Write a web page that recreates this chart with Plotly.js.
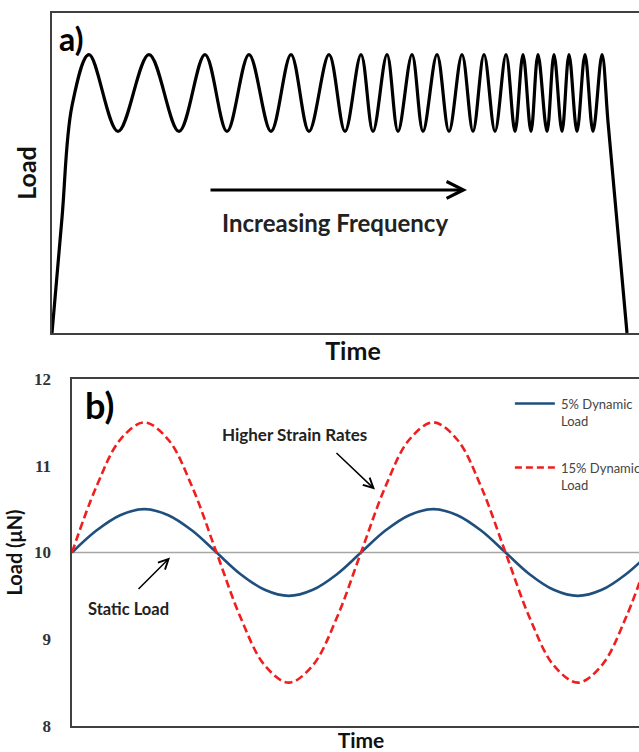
<!DOCTYPE html>
<html>
<head>
<meta charset="utf-8">
<script src="https://cdn.plot.ly/plotly-3.0.1.min.js"></script>
<style>
html, body { margin: 0; padding: 0; background: #fff; overflow: hidden; }
#chart { width: 660px; height: 752px; }
</style>
</head>
<body>
<div id="chart"></div>
<script>
// ---------- Panel a) : load vs time with increasing frequency ----------
// time (arbitrary units) and load (arbitrary units)
const timeA = [0, 10, 20, 37, 66, 97, 127, 153, 175, 197, 219, 239, 257, 277, 293, 309, 321, 335, 346, 360, 371, 385, 397, 410, 421, 432, 443, 454, 463, 471, 479, 486, 495, 502, 510, 517, 525, 533, 541, 550, 556, 565.5, 575];
const loadA = [0, 3.6, 7.1, 8.7, 6.3, 8.7, 6.3, 8.7, 6.3, 8.7, 6.3, 8.7, 6.3, 8.7, 6.3, 8.7, 6.3, 8.7, 6.3, 8.7, 6.3, 8.7, 6.3, 8.7, 6.3, 8.7, 6.3, 8.7, 6.3, 8.7, 6.3, 8.7, 6.3, 8.7, 6.3, 8.7, 6.3, 8.7, 6.3, 8.7, 6.6, 3.3, 0];

// ---------- Panel b) : dynamic loads ----------
const timeB = [0, 1, 2, 3, 4, 5, 6, 7, 8, 9, 10, 11, 12, 13, 14, 15, 16, 17, 18, 19, 20, 21, 22, 23, 24];
const load5 = [10, 10.25, 10.43, 10.5, 10.43, 10.25, 10, 9.75, 9.57, 9.5, 9.57, 9.75, 10, 10.25, 10.43, 10.5, 10.43, 10.25, 10, 9.75, 9.57, 9.5, 9.57, 9.75, 10];
const load15 = [10, 10.75, 11.3, 11.5, 11.3, 10.75, 10, 9.25, 8.7, 8.5, 8.7, 9.25, 10, 10.75, 11.3, 11.5, 11.3, 10.75, 10, 9.25, 8.7, 8.5, 8.7, 9.25, 10];
const staticT = [0, 24];
const staticLoad = [10, 10];
const seriesNames = ['5% Dynamic<br>Load', '15% Dynamic<br>Load'];
const yTicksB = [8, 9, 10, 11, 12];

const W = 660, H = 752;
const SANS = 'Lato, "Open Sans", sans-serif';

const traces = [
  { x: timeA, y: loadA, xaxis: 'x', yaxis: 'y', mode: 'lines',
    line: { color: '#000', width: 3.2, shape: 'spline', smoothing: 1 }, showlegend: false, hoverinfo: 'skip' },
  { x: staticT, y: staticLoad, xaxis: 'x2', yaxis: 'y2', mode: 'lines',
    line: { color: '#a6a6a6', width: 1.6 }, showlegend: false, hoverinfo: 'skip' },
  { x: timeB, y: load5, xaxis: 'x2', yaxis: 'y2', mode: 'lines', name: seriesNames[0],
    line: { color: '#1f4f7d', width: 2.6, shape: 'spline' }, showlegend: false },
  { x: timeB, y: load15, xaxis: 'x2', yaxis: 'y2', mode: 'lines', name: seriesNames[1],
    line: { color: '#f01e1e', width: 2.6, dash: '8px,4px', shape: 'spline' }, showlegend: false }
];

const axLine = { showline: true, mirror: true, linecolor: '#404040', linewidth: 1.6,
  showgrid: false, zeroline: false, ticks: '' };

const layout = {
  width: W, height: H,
  margin: { l: 0, r: 0, t: 0, b: 0, pad: 0 },
  paper_bgcolor: '#fff', plot_bgcolor: '#fff',
  showlegend: false,
  xaxis: Object.assign({}, axLine, {
    domain: [52 / W, 654 / W], range: [0, 602], showticklabels: false, anchor: 'y',
    title: { text: 'Time', font: { family: SANS, size: 25, color: '#111', weight: 'bold' }, standoff: 9 }
  }),
  yaxis: Object.assign({}, axLine, {
    domain: [1 - 333 / H, 1 - 13 / H], range: [0, 10], showticklabels: false, anchor: 'x',
    title: { text: 'Load', font: { family: SANS, size: 25, color: '#111', weight: 'bold' }, standoff: 6 }
  }),
  xaxis2: Object.assign({}, axLine, {
    domain: [72 / W, 650 / W], range: [0, 24], showticklabels: false, anchor: 'y2',
    title: { text: 'Time', font: { family: SANS, size: 21, color: '#111', weight: 'bold' }, standoff: 10 }
  }),
  yaxis2: Object.assign({}, axLine, {
    domain: [1 - 726 / H, 1 - 379 / H], range: [8, 12], anchor: 'x2',
    tickmode: 'array', tickvals: yTicksB, ticktext: yTicksB.map(String),
    ticklabelstandoff: 16,
    tickfont: { family: '"Liberation Serif", serif', size: 17, color: '#333', weight: 'bold' },
    title: { text: 'Load (μN)', font: { family: SANS, size: 20, color: '#111', weight: 'bold' }, standoff: 6 }
  }),
  shapes: [
    { type: 'line', xref: 'x2', yref: 'y2', x0: 18.39, x1: 20.05, y0: 11.718, y1: 11.718,
      line: { color: '#1f4f7d', width: 2.6 } },
    { type: 'line', xref: 'x2', yref: 'y2', x0: 18.39, x1: 20.05, y0: 10.98, y1: 10.98,
      line: { color: '#f01e1e', width: 2.6, dash: '7px,4px' } }
  ],
  annotations: [
    // panel a
    { xref: 'x', yref: 'y', x: 5, y: 9.2, xanchor: 'left', yanchor: 'middle', text: 'a)', showarrow: false,
      font: { family: SANS, size: 32, color: '#000', weight: 'bold' } },
    { xref: 'x', yref: 'y', x: 415, y: 4.47, axref: 'x', ayref: 'y', ax: 157, ay: 4.47, text: '',
      showarrow: true, arrowhead: 5, arrowsize: 1.1, arrowwidth: 3, arrowcolor: '#000', standoff: 0, startstandoff: 0 },
    { xref: 'x', yref: 'y', x: 283, y: 3.44, xanchor: 'center', yanchor: 'middle', text: 'Increasing Frequency', showarrow: false,
      font: { family: SANS, size: 24, color: '#222', weight: 'bold' } },
    // panel b
    { xref: 'x2', yref: 'y2', x: 0.45, y: 11.7, xanchor: 'left', yanchor: 'middle', text: 'b)', showarrow: false,
      font: { family: SANS, size: 36, color: '#000', weight: 'bold' } },
    { xref: 'x2', yref: 'y2', x: 9.22, y: 11.36, xanchor: 'center', yanchor: 'middle', text: 'Higher Strain Rates', showarrow: false,
      font: { family: SANS, size: 17, color: '#222', weight: 'bold' } },
    { xref: 'x2', yref: 'y2', x: 12.58, y: 10.726, axref: 'x2', ayref: 'y2', ax: 10.92, ay: 11.164, text: '',
      showarrow: true, arrowhead: 5, arrowsize: 1.3, arrowwidth: 1.5, arrowcolor: '#000', standoff: 0, startstandoff: 0 },
    { xref: 'x2', yref: 'y2', x: 2.36, y: 9.354, xanchor: 'center', yanchor: 'middle', text: 'Static Load', showarrow: false,
      font: { family: SANS, size: 16.5, color: '#222', weight: 'bold' } },
    { xref: 'x2', yref: 'y2', x: 4.07, y: 9.942, axref: 'x2', ayref: 'y2', ax: 2.70, ay: 9.562, text: '',
      showarrow: true, arrowhead: 5, arrowsize: 1.3, arrowwidth: 1.5, arrowcolor: '#000', standoff: 0, startstandoff: 0 },
    // legend
    { xref: 'x2', yref: 'y2', x: 20.22, y: 11.614, xanchor: 'left', yanchor: 'middle', align: 'left', text: seriesNames[0], showarrow: false,
      font: { family: SANS, size: 13, color: '#444' } },
    { xref: 'x2', yref: 'y2', x: 20.22, y: 10.876, xanchor: 'left', yanchor: 'middle', align: 'left', text: seriesNames[1], showarrow: false,
      font: { family: SANS, size: 13, color: '#444' } }
  ]
};

Plotly.newPlot('chart', traces, layout, { displayModeBar: false, staticPlot: true });
</script>
</body>
</html>
